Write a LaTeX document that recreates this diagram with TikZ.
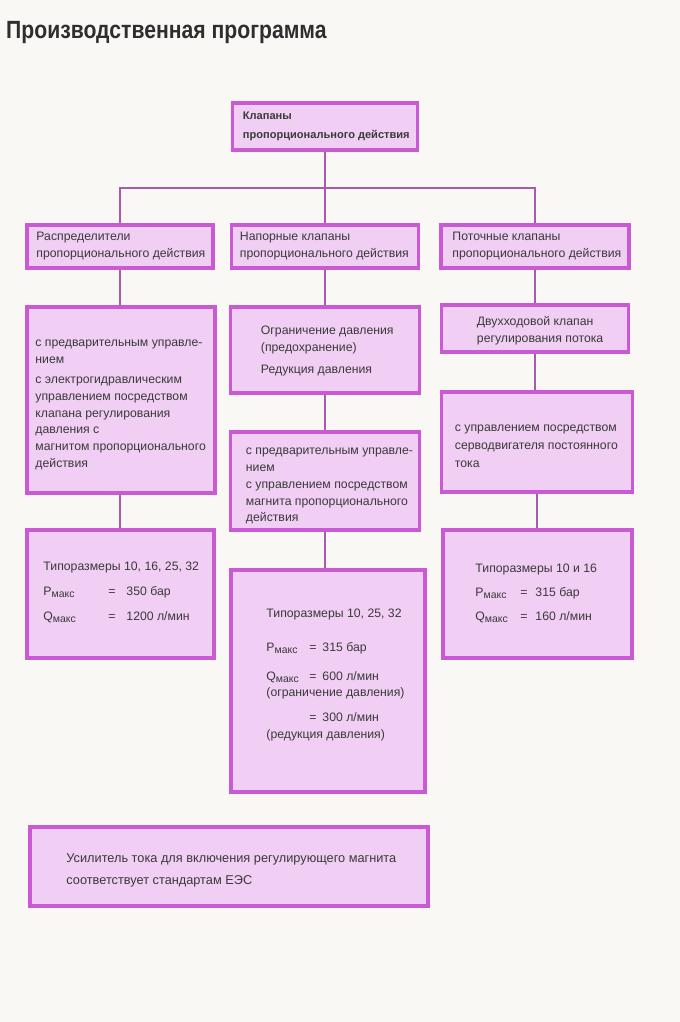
\documentclass[tikz,border=0pt]{standalone}
\usepackage{fontspec}
\setmainfont{Liberation Sans}
\newfontfamily\titlefont[FakeStretch=0.85]{Liberation Sans}
\usepackage{graphicx}
\definecolor{pagebg}{HTML}{F9F8F5}
\definecolor{boxfill}{HTML}{F1CEF3}
\definecolor{boxline}{HTML}{C95AD4}
\definecolor{linkcol}{HTML}{A85AAE}
\definecolor{txtcol}{HTML}{3A3A3A}
\definecolor{titlecol}{HTML}{2E2E2E}
\newcommand\pmaxx{P\raisebox{-2bp}{\fontsize{10.5}{10}\selectfont макс}}
\newcommand\qmaxx{Q\raisebox{-2bp}{\fontsize{10.5}{10}\selectfont макс}}
\pgfdeclarelayer{bg}
\pgfsetlayers{bg,main}
\begin{document}
\begin{tikzpicture}[x=1bp,y=-1bp,
  box/.style={draw=boxline, line width=3.5bp, fill=boxfill, rectangle, inner sep=0pt},
  txt/.style={anchor=west, align=left, text=txtcol, inner sep=0pt, font=\fontsize{12.3}{17}\selectfont},
  link/.style={draw=linkcol, line width=1.8bp}]
\useasboundingbox (0,0) rectangle (680,1022);

\node[anchor=base west, inner sep=0pt, text=titlecol, font=\titlefont\bfseries\fontsize{25}{30}\selectfont] (title) at (6,38) {Производственная программа};

% boxes
\node[box, minimum width=185bp, minimum height=47bp] (top) at (325,126.5) {};
\node[box, minimum width=186bp, minimum height=43bp] (l2a) at (120,246.5) {};
\node[box, minimum width=187bp, minimum height=43bp] (l2b) at (325,246.5) {};
\node[box, minimum width=188bp, minimum height=43bp] (l2c) at (535,246.5) {};

\node[box, minimum width=188bp, minimum height=186bp] (a2) at (121,400) {};
\node[box, minimum width=187bp, minimum height=128bp] (a3) at (120.5,594) {};

\node[box, minimum width=189bp, minimum height=86bp] (b2) at (325,350) {};
\node[box, minimum width=189bp, minimum height=98bp] (b3) at (325,481) {};
\node[box, minimum width=194bp, minimum height=222bp] (b4) at (328,681) {};

\node[box, minimum width=187bp, minimum height=47bp] (c2) at (535,328.5) {};
\node[box, minimum width=191bp, minimum height=100bp] (c3) at (537,442) {};
\node[box, minimum width=189bp, minimum height=128bp] (c4) at (537.5,594) {};

\node[box, minimum width=398bp, minimum height=79bp] (bot) at (229,866.5) {};

% texts
\node[txt, font=\bfseries\fontsize{11.1}{19.5}\selectfont] (ttop) at ([xshift=12bp]top.west) {Клапаны\\пропорционального действия};
\node[txt] (tl2a) at ([xshift=11bp]l2a.west) {Распределители\\пропорционального действия};
\node[txt] (tl2b) at ([xshift=10bp]l2b.west) {Напорные клапаны\\пропорционального действия};
\node[txt] (tl2c) at ([xshift=13bp]l2c.west) {Поточные клапаны\\пропорционального действия};

\node[txt] (ta2) at ([xshift=10bp,yshift=-5bp]a2.west) {с предварительным управле-\\нием\\[3bp]с электрогидравлическим\\управлением посредством\\клапана регулирования\\давления с\\магнитом пропорционального\\действия};
\node[txt, font=\fontsize{12.3}{25}\selectfont] (ta3) at ([xshift=18bp,yshift=2bp]a3.west) {Типоразмеры  10, 16, 25, 32\\\makebox[65bp][l]{\pmaxx}\makebox[18bp][l]{=}350 бар\\\makebox[65bp][l]{\qmaxx}\makebox[18bp][l]{=}1200 л/мин};

\node[txt] (tb2) at ([xshift=32bp,yshift=-1bp]b2.west) {Ограничение давления\\(предохранение)\\[5bp]Редукция давления};
\node[txt] (tb3) at ([xshift=17bp,yshift=-5bp]b3.west) {с предварительным управле-\\нием\\с управлением посредством\\магнита пропорционального\\действия};
\node[txt] (tb4) at ([xshift=37bp,yshift=6bp]b4.west) {Типоразмеры  10, 25, 32\\[17bp]\makebox[43bp][l]{\pmaxx}\makebox[13bp][l]{=}315 бар\\[12bp]\makebox[43bp][l]{\qmaxx}\makebox[13bp][l]{=}600 л/мин\\(ограничение давления)\\[8bp]\hspace*{43bp}\makebox[13bp][l]{=}300 л/мин\\(редукция давления)};

\node[txt] (tc2) at ([xshift=37bp,yshift=-2bp]c2.west) {Двухходовой клапан\\регулирования потока};
\node[txt, font=\fontsize{12.3}{18}\selectfont] (tc3) at ([xshift=15bp,yshift=-4bp]c3.west) {с управлением посредством\\серводвигателя постоянного\\тока};
\node[txt, font=\fontsize{12.3}{24}\selectfont] (tc4) at ([xshift=34bp,yshift=1bp]c4.west) {Типоразмеры  10 и 16\\\makebox[45bp][l]{\pmaxx}\makebox[15bp][l]{=}315 бар\\\makebox[45bp][l]{\qmaxx}\makebox[15bp][l]{=}160 л/мин};

\node[txt, font=\fontsize{12.8}{22}\selectfont] (tbot) at ([xshift=38bp,yshift=-4bp]bot.west) {Усилитель тока для включения регулирующего магнита\\соответствует стандартам  ЕЭС};

\begin{pgfonlayer}{bg}
\fill[pagebg] (0,0) rectangle (680,1022);
\coordinate (bus) at (325,188);
\draw[link] (top.south) -- (bus);
\draw[link] (l2a.north) |- (bus) -| (l2c.north);
\draw[link] (bus) -- (l2b.north);
\draw[link] (l2a.south) -- (l2a.south |- a2.north);
\draw[link] (l2a.south |- a2.south) -- (l2a.south |- a3.north);
\draw[link] (l2b.south) -- (b2.north);
\draw[link] (b2.south) -- (b3.north);
\draw[link] (b3.south) -- (b3.south |- b4.north);
\draw[link] (l2c.south) -- (c2.north);
\draw[link] (c2.south) -- (c2.south |- c3.north);
\draw[link] (c3.south) -- (c3.south |- c4.north);
\end{pgfonlayer}
\end{tikzpicture}
\end{document}
